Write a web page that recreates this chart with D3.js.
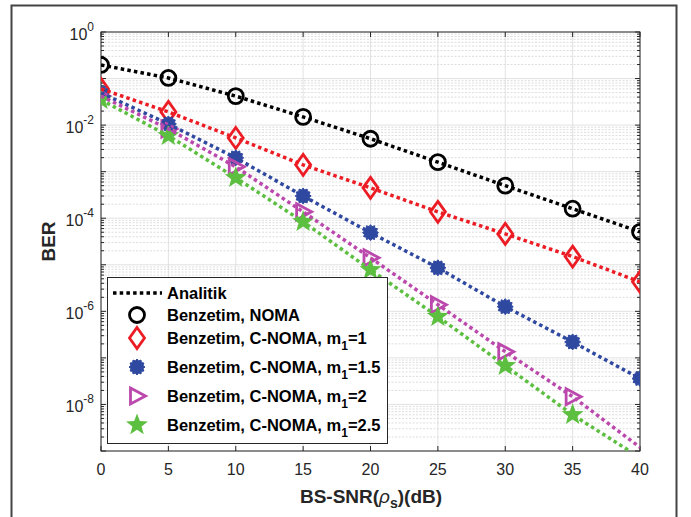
<!DOCTYPE html>
<html>
<head>
<meta charset="utf-8">
<script src="https://cdn.jsdelivr.net/npm/d3@7"></script>
<style>
  body { margin: 0; background: #fff; }
  text { font-family: Arial, "Liberation Sans", Helvetica, sans-serif; }
</style>
</head>
<body>
<script>
// SNR values (dB)
const snr = [0, 5, 10, 15, 20, 25, 30, 35, 40];

// analytic curves (dotted lines)
const analyticNoma = [0.196, 0.103, 0.042, 0.015, 5.1e-3, 1.6e-3, 5.0e-4, 1.6e-4, 5.1e-5];
const analyticM1   = [0.060, 0.0192, 5.3e-3, 1.4e-3, 4.5e-4, 1.37e-4, 4.6e-5, 1.5e-5, 4.3e-6];
const analyticM15  = [0.049, 0.0106, 1.98e-3, 3.0e-4, 4.9e-5, 8.6e-6, 1.26e-6, 2.2e-7, 3.6e-8];
const analyticM2   = [0.042, 8.3e-3, 1.27e-3, 1.37e-4, 1.41e-5, 1.39e-6, 1.36e-7, 1.47e-8, 1.2e-9];
const analyticM25  = [0.035, 5.9e-3, 7.4e-4, 8.4e-5, 7.8e-6, 7.7e-7, 6.8e-8, 6.0e-9, 7.2e-10];

// simulation points (markers), null = not shown
const simNoma = [0.196, 0.103, 0.042, 0.015, 5.1e-3, 1.6e-3, 5.0e-4, 1.6e-4, 5.1e-5];
const simM1   = [0.060, 0.0192, 5.3e-3, 1.4e-3, 4.5e-4, 1.37e-4, 4.6e-5, 1.5e-5, 4.3e-6];
const simM15  = [0.049, 0.0106, 1.98e-3, 3.0e-4, 4.9e-5, 8.6e-6, 1.26e-6, 2.2e-7, 3.6e-8];
const simM2   = [0.042, 8.3e-3, 1.27e-3, 1.37e-4, 1.41e-5, 1.39e-6, 1.36e-7, 1.47e-8, null];
const simM25  = [0.035, 5.9e-3, 7.4e-4, 8.4e-5, 7.8e-6, 7.7e-7, 6.8e-8, 6.0e-9, null];

const xTicks = [0, 5, 10, 15, 20, 25, 30, 35, 40];
const yTickExps = [0, -2, -4, -6, -8];

const legendLabels = [
    ["Analitik", null],
    ["Benzetim, NOMA", null],
    ["Benzetim, C-NOMA, m", "=1"],
    ["Benzetim, C-NOMA, m", "=1.5"],
    ["Benzetim, C-NOMA, m", "=2"],
    ["Benzetim, C-NOMA, m", "=2.5"]
];

function main(){
    const width = 691;
    const height = 517;

    const svg = d3.select("body").append("svg")
        .attr("width", width)
        .attr("height", height)

    const left = 101, right = 640, top = 32, bottom = 451;

    const xScale = d3.scaleLinear().domain([0, 40]).range([left, right]);
    const yScale = d3.scaleLog().domain([1e-9, 1]).range([bottom, top]);

    //outer frame of the figure
    svg.append("rect")
        .attr("x", 11.5).attr("y", 5.5)
        .attr("width", 665).attr("height", 530)
        .attr("fill", "none")
        .attr("stroke", "#444")
        .attr("stroke-width", 2)

    svg.append("clipPath").attr("id", "plotclip")
        .append("rect")
        .attr("x", left).attr("y", top)
        .attr("width", right - left).attr("height", bottom - top)

    //grid lines
    const grid = svg.append("g");
    const minorVals = [];
    for (let e = -9; e < 0; e++) {
        for (let m = 2; m <= 9; m++) minorVals.push(m * Math.pow(10, e));
    }
    const majorVals = d3.range(-9, 1).map(e => Math.pow(10, e));

    grid.selectAll(".minor").data(minorVals).enter().append("line")
        .attr("x1", left).attr("x2", right)
        .attr("y1", d => yScale(d)).attr("y2", d => yScale(d))
        .attr("stroke", "#cfcfcf")
        .attr("stroke-width", 0.7)
        .attr("stroke-dasharray", "2,1.5")

    grid.selectAll(".hmajor").data(majorVals).enter().append("line")
        .attr("x1", left).attr("x2", right)
        .attr("y1", d => yScale(d)).attr("y2", d => yScale(d))
        .attr("stroke", "#dadada")
        .attr("stroke-width", 0.8)

    grid.selectAll(".vmajor").data(xTicks).enter().append("line")
        .attr("y1", top).attr("y2", bottom)
        .attr("x1", d => xScale(d)).attr("x2", d => xScale(d))
        .attr("stroke", "#dadada")
        .attr("stroke-width", 0.8)

    //axes box and ticks
    const axes = svg.append("g").attr("stroke", "#262626").attr("stroke-width", 1);
    axes.append("rect")
        .attr("x", left).attr("y", top)
        .attr("width", right - left).attr("height", bottom - top)
        .attr("fill", "none")

    xTicks.forEach(t => {
        axes.append("line").attr("x1", xScale(t)).attr("x2", xScale(t)).attr("y1", bottom).attr("y2", bottom - 5);
        axes.append("line").attr("x1", xScale(t)).attr("x2", xScale(t)).attr("y1", top).attr("y2", top + 5);
    });
    majorVals.forEach(v => {
        axes.append("line").attr("x1", left).attr("x2", left + 5).attr("y1", yScale(v)).attr("y2", yScale(v));
        axes.append("line").attr("x1", right).attr("x2", right - 5).attr("y1", yScale(v)).attr("y2", yScale(v));
    });
    minorVals.forEach(v => {
        axes.append("line").attr("x1", left).attr("x2", left + 3).attr("y1", yScale(v)).attr("y2", yScale(v));
        axes.append("line").attr("x1", right).attr("x2", right - 3).attr("y1", yScale(v)).attr("y2", yScale(v));
    });

    //tick labels
    svg.selectAll(".xlab").data(xTicks).enter().append("text")
        .attr("x", d => xScale(d))
        .attr("y", 475)
        .attr("text-anchor", "middle")
        .attr("font-size", "16px")
        .attr("fill", "#262626")
        .text(d => d)

    yTickExps.forEach(e => {
        const t = svg.append("text")
            .attr("x", 94)
            .attr("y", yScale(Math.pow(10, e)) + 8)
            .attr("text-anchor", "end")
            .attr("font-size", "16px")
            .attr("fill", "#262626");
        t.append("tspan").text("10");
        t.append("tspan").attr("dy", -9).attr("font-size", "12px").text(e);
    });

    //axis titles
    const xt = svg.append("text")
        .attr("x", 371).attr("y", 503)
        .attr("text-anchor", "middle")
        .attr("font-size", "19px")
        .attr("font-weight", "bold")
        .attr("fill", "#262626");
    xt.append("tspan").text("BS-SNR(");
    xt.append("tspan").attr("font-style", "italic").attr("font-weight", "normal").text("ρ");
    xt.append("tspan").attr("dy", 5).attr("font-size", "14px").text("s");
    xt.append("tspan").attr("dy", -5).text(")(dB)");

    svg.append("text")
        .attr("transform", "translate(55," + ((top + bottom) / 2) + ") rotate(-90)")
        .attr("text-anchor", "middle")
        .attr("font-size", "19px")
        .attr("font-weight", "bold")
        .attr("fill", "#262626")
        .text("BER")

    //marker shapes
    function starPath(n, ro, ri) {
        const pts = [];
        for (let i = 0; i < 2 * n; i++) {
            const a = -Math.PI / 2 + i * Math.PI / n;
            const r = i % 2 === 0 ? ro : ri;
            pts.push([r * Math.cos(a), r * Math.sin(a)]);
        }
        return "M" + pts.map(p => p[0].toFixed(2) + "," + p[1].toFixed(2)).join("L") + "Z";
    }

    const series = [
        { analytic: analyticNoma, sim: simNoma, color: "#000000", marker: "circle" },
        { analytic: analyticM1, sim: simM1, color: "#ec1c24", marker: "diamond" },
        { analytic: analyticM15, sim: simM15, color: "#2f48a0", marker: "asterisk" },
        { analytic: analyticM2, sim: simM2, color: "#bb48ac", marker: "triangle" },
        { analytic: analyticM25, sim: simM25, color: "#5cbf40", marker: "star" }
    ];

    function drawMarker(g, type, color) {
        if (type === "circle") {
            g.append("circle").attr("r", 7.5).attr("fill", "none").attr("stroke", color).attr("stroke-width", 2.8);
        } else if (type === "diamond") {
            g.append("path").attr("d", "M0,-10.5L7.5,0L0,10.5L-7.5,0Z").attr("fill", "none").attr("stroke", color).attr("stroke-width", 2.8);
        } else if (type === "asterisk") {
            g.append("path").attr("d", starPath(12, 8, 6.2)).attr("fill", color).attr("stroke", color).attr("stroke-width", 1);
        } else if (type === "triangle") {
            g.append("path").attr("d", "M-6.5,-8L8.5,0L-6.5,8Z").attr("fill", "none").attr("stroke", color).attr("stroke-width", 2.8);
        } else if (type === "star") {
            g.append("path").attr("d", starPath(5, 11.5, 4.8)).attr("fill", color);
        }
    }

    const plot = svg.append("g").attr("clip-path", "url(#plotclip)");
    const line = d3.line()
        .x((d, i) => xScale(snr[i]))
        .y(d => yScale(d));

    series.forEach(s => {
        const mg = plot.append("g");
        s.sim.forEach((v, i) => {
            if (v === null) return;
            const g = mg.append("g").attr("transform", "translate(" + xScale(snr[i]) + "," + yScale(v) + ")");
            drawMarker(g, s.marker, s.color);
        });
    });

    series.forEach(s => {
        plot.append("path")
            .datum(s.analytic)
            .attr("d", line)
            .attr("fill", "none")
            .attr("stroke", s.color)
            .attr("stroke-width", 3.5)
            .attr("stroke-dasharray", "3.5,3.2")
    });

    //legend
    const legend = svg.append("g");
    legend.append("rect")
        .attr("x", 107.5).attr("y", 277.5)
        .attr("width", 280).attr("height", 166)
        .attr("fill", "white")
        .attr("stroke", "#262626")
        .attr("stroke-width", 1)

    const rowY = [293, 315, 338, 367, 396, 425];
    legend.append("line")
        .attr("x1", 113).attr("x2", 162)
        .attr("y1", rowY[0]).attr("y2", rowY[0])
        .attr("stroke", "#000")
        .attr("stroke-width", 3.5)
        .attr("stroke-dasharray", "3.5,3.2")

    series.forEach((s, i) => {
        const g = legend.append("g").attr("transform", "translate(137," + rowY[i + 1] + ")");
        drawMarker(g, s.marker, s.color);
    });

    legendLabels.forEach((lab, i) => {
        const t = legend.append("text")
            .attr("x", 167)
            .attr("y", rowY[i] + 6)
            .attr("font-size", "16.5px")
            .attr("font-weight", "bold")
            .attr("fill", "#000");
        t.append("tspan").text(lab[0]);
        if (lab[1] !== null) {
            t.append("tspan").attr("dy", 6).attr("font-size", "12px").text("1");
            t.append("tspan").attr("dy", -6).text(lab[1]);
        }
    });
}
main();
</script>
</body>
</html>
